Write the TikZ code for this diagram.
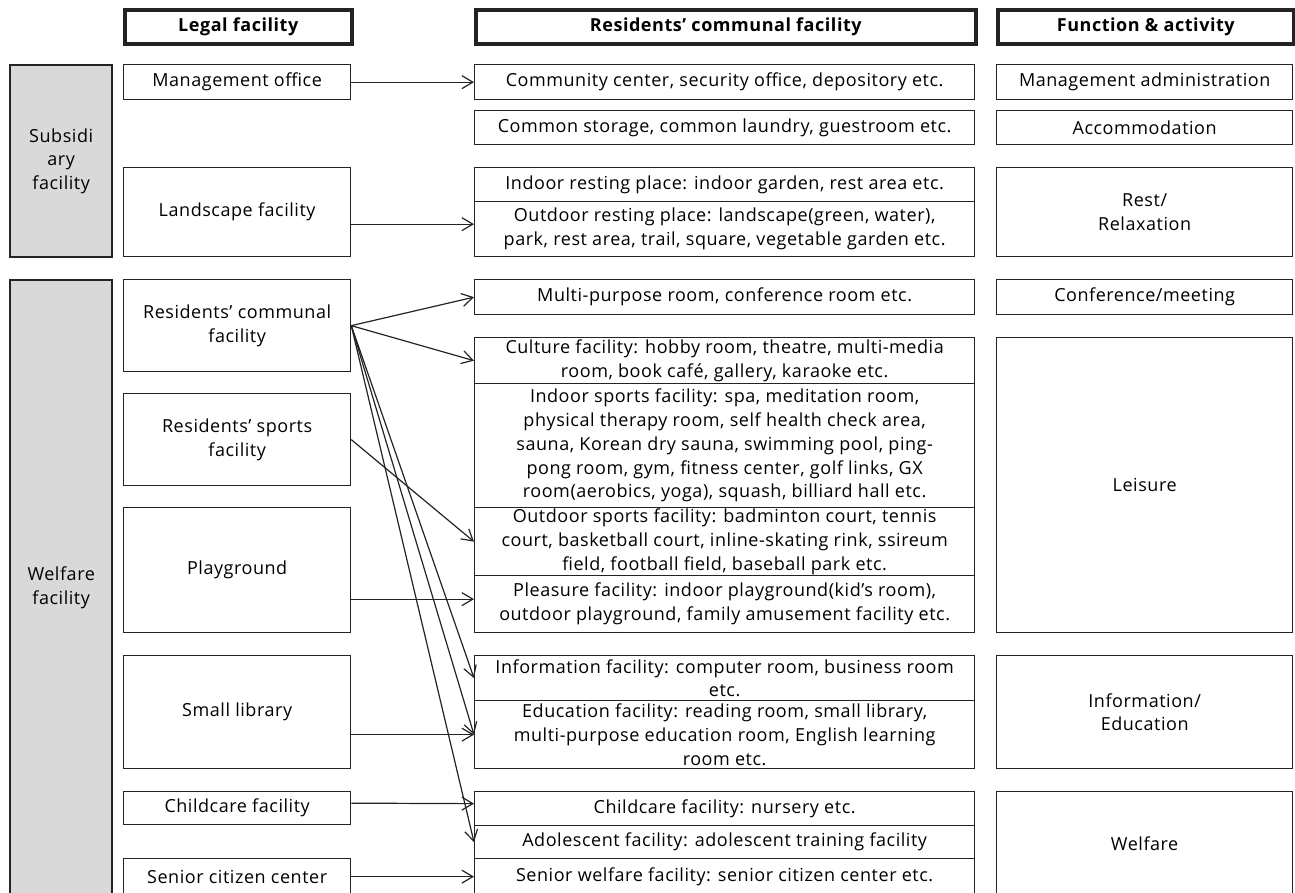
\documentclass[tikz,border=0pt]{standalone}
\usepackage{fontspec}
\setmainfont{Open Sans}[LetterSpace=3]
\usetikzlibrary{arrows.meta, positioning}
\definecolor{catgray}{RGB}{217,217,217}
\definecolor{inkgray}{RGB}{35,35,35}

\begin{document}
\begin{tikzpicture}[x=1pt, y=-1pt,
    cell/.style={draw=inkgray, line width=1.3pt, anchor=north west, align=center,
                 inner sep=0pt, font=\fontsize{18}{23.8}\selectfont},
    head/.style={cell, line width=3.6pt, font=\fontsize{18}{23.8}\selectfont\bfseries},
    cat/.style={cell, fill=catgray, line width=2.4pt},
    link/.style={-{Straight Barb[length=11pt, width=13pt]}, line width=1.2pt, draw=inkgray}]
    \useasboundingbox (0,0) rectangle (1295,892);

    % Column heads
    \node[head, minimum width=227pt, minimum height=34pt] (hlegal) at (123,8) {Legal facility};
    \node[head, minimum width=500pt, minimum height=34pt] (hcomm) at (474,8) {Residents’ communal facility};
    \node[head, minimum width=296pt, minimum height=34pt] (hfunc) at (996,8) {Function \& activity};

    % Categories
    \node[cat, minimum width=102pt, minimum height=192pt] (subsid) at (9,64) {Subsidi\\ary\\facility};
    \node[cat, minimum width=102pt, minimum height=615pt] (welfare) at (9,279) {Welfare\\facility};

    % Legal facility
    \node[cell, minimum width=227pt, minimum height=35pt] (mgmt) at (123,64) {Management office};
    \node[cell, minimum width=227pt, minimum height=89pt] (landscape) at (123,167) {Landscape facility};
    \node[cell, minimum width=227pt, minimum height=92pt] (rescomm) at (123,279) {Residents’ communal\\facility};
    \node[cell, minimum width=227pt, minimum height=92pt] (ressport) at (123,393) {Residents’ sports\\facility};
    \node[cell, minimum width=227pt, minimum height=125pt] (playground) at (123,507) {Playground};
    \node[cell, minimum width=227pt, minimum height=113pt] (library) at (123,655) {Small library};
    \node[cell, minimum width=227pt, minimum height=33pt] (childcare) at (123,791) {Childcare facility};
    \node[cell, minimum width=227pt, minimum height=36pt] (senior) at (123,858) {Senior citizen center};

    % Residents' communal facility
    \node[cell, minimum width=500pt, minimum height=35pt] (community) at (474,64) {Community center, security office, depository etc.};
    \node[cell, minimum width=500pt, minimum height=34pt] (storage) at (474,110) {Common storage, common laundry, guestroom etc.};
    \node[cell, minimum width=500pt, minimum height=34pt] (inrest) at (474,167) {Indoor resting place: indoor garden, rest area etc.};
    \node[cell, minimum width=500pt, minimum height=55pt] (outrest) at (474,201) {Outdoor resting place: landscape(green, water),\\park, rest area, trail, square, vegetable garden etc.};
    \node[cell, minimum width=500pt, minimum height=35pt] (multi) at (474,279) {Multi-purpose room, conference room etc.};
    \node[cell, minimum width=500pt, minimum height=46pt] (culture) at (474,337) {Culture facility: hobby room, theatre, multi-media\\room, book café, gallery, karaoke etc.};
    \node[cell, minimum width=500pt, minimum height=124pt] (indoor) at (474,383) {Indoor sports facility: spa, meditation room,\\physical therapy room, self health check area,\\sauna, Korean dry sauna, swimming pool, ping-\\pong room, gym, fitness center, golf links, GX\\room(aerobics, yoga), squash, billiard hall etc.};
    \node[cell, minimum width=500pt, minimum height=68pt] (outdoor) at (474,507) {Outdoor sports facility: badminton court, tennis\\court, basketball court, inline-skating rink, ssireum\\field, football field, baseball park etc.};
    \node[cell, minimum width=500pt, minimum height=57pt] (pleasure) at (474,575) {Pleasure facility: indoor playground(kid’s room),\\outdoor playground, family amusement facility etc.};
    \node[cell, minimum width=500pt, minimum height=45pt] (info) at (474,655) {Information facility: computer room, business room\\etc.};
    \node[cell, minimum width=500pt, minimum height=68pt] (edu) at (474,700) {Education facility: reading room, small library,\\multi-purpose education room, English learning\\room etc.};
    \node[cell, minimum width=500pt, minimum height=34pt] (childmid) at (474,791) {Childcare facility: nursery etc.};
    \node[cell, minimum width=500pt, minimum height=33pt] (adol) at (474,825) {Adolescent facility: adolescent training facility};
    \node[cell, minimum width=500pt, minimum height=36pt] (seniormid) at (474,858) {Senior welfare facility: senior citizen center etc.};

    % Function & activity
    \node[cell, minimum width=296pt, minimum height=35pt] (fmgmt) at (996,64) {Management administration};
    \node[cell, minimum width=296pt, minimum height=34pt] (faccom) at (996,110) {Accommodation};
    \node[cell, minimum width=296pt, minimum height=89pt] (frest) at (996,167) {Rest/\\Relaxation};
    \node[cell, minimum width=296pt, minimum height=35pt] (fconf) at (996,279) {Conference/meeting};
    \node[cell, minimum width=296pt, minimum height=295pt] (fleisure) at (996,337) {Leisure};
    \node[cell, minimum width=296pt, minimum height=113pt] (finfo) at (996,655) {Information/\\Education};
    \node[cell, minimum width=296pt, minimum height=104pt] (fwelfare) at (996,791) {Welfare};

    % Links
    \draw[link] (mgmt.east) -- (community.west);
    \draw[link] ([yshift=5pt]landscape.east |- outrest.west) -- ([yshift=5pt]outrest.west);
    \foreach \t in {multi, culture, info, edu, adol}
        \draw[link] (rescomm.east) -- (\t.west);
    \draw[link] (ressport.east) -- (outdoor.west);
    \draw[link] ([yshift=5pt]playground.east |- pleasure.west) -- ([yshift=5pt]pleasure.west);
    \draw[link] (library.east |- edu.west) -- (edu.west);
    \draw[link] ([yshift=5pt]childcare.east) -- ([yshift=5pt]childmid.west);
    \draw[link] (senior.east) -- (seniormid.west);
\end{tikzpicture}
\end{document}
